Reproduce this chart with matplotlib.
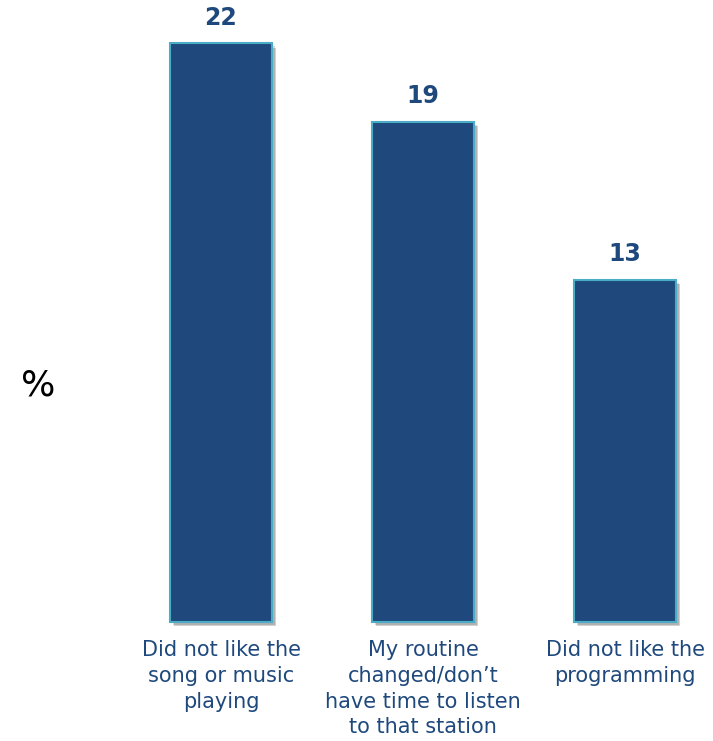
import matplotlib.pyplot as plt
import matplotlib.patheffects as pe

categories = ['Did not like the\nsong or music\nplaying',
              'My routine\nchanged/don\u2019t\nhave time to listen\nto that station',
              'Did not like the\nprogramming']
values = [22, 19, 13]

W, H = 713, 741
fig = plt.figure(figsize=(W / 100, H / 100), dpi=100)
# axes in pixel terms: left 120, baseline at y=622 (from top), top at y=0
ax = fig.add_axes([120 / W, (H - 622) / H, (W - 120) / W, 622 / H])

x = list(range(len(values)))
bars = ax.bar(x, values, width=0.505, color='#1F497D', edgecolor='#4BACC6',
              linewidth=1.5, zorder=3)
for b in bars:
    b.set_clip_on(False)
    b.set_path_effects([pe.SimplePatchShadow(offset=(3, -3), shadow_rgbFace='#000000', alpha=0.18),
                        pe.SimplePatchShadow(offset=(2, -2), shadow_rgbFace='#000000', alpha=0.15),
                        pe.Normal()])

ax.set_xlim(-0.5, -0.5 + (W - 120) / 202)
ax.set_ylim(0, 622 / 26.3)

for xi, v in zip(x, values):
    ax.annotate(str(v), (xi, v), xytext=(0, 10), textcoords='offset points',
                ha='center', va='bottom', fontsize=17, fontweight='bold', color='#1F497D')

ax.set_xticks(x)
ax.set_xticklabels(categories, fontsize=15, color='#1F497D', linespacing=1.36, va='top')
ax.tick_params(axis='x', length=0, pad=13)
ax.set_yticks([])
for s in ax.spines.values():
    s.set_visible(False)

fig.text(38 / W, 1 - 385 / H, '%', fontsize=26, ha='center', va='center', color='black')

fig.savefig('out.png', dpi=100)
